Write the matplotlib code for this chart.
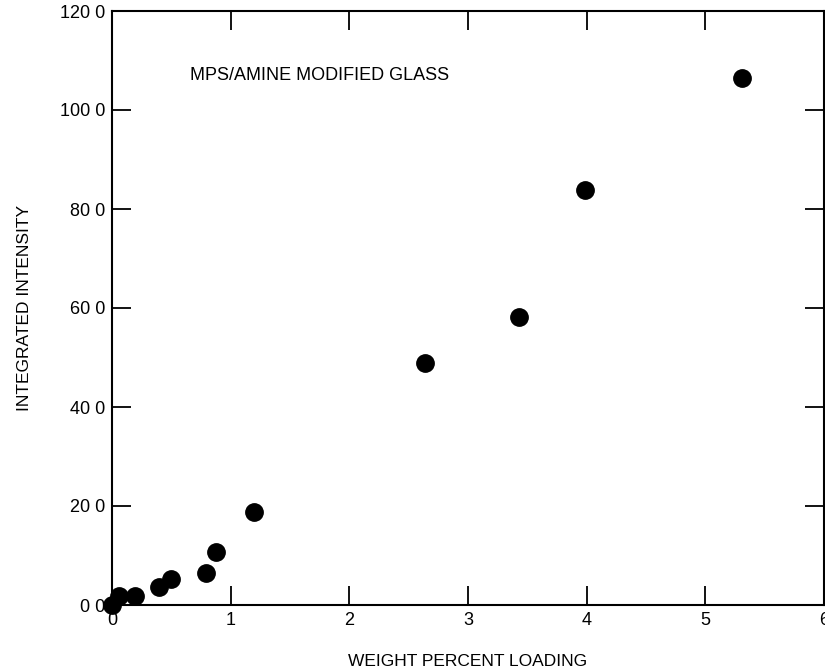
import matplotlib.pyplot as plt

plt.rcParams['font.family'] = ['Liberation Sans', 'DejaVu Sans']

# weight percent loading vs integrated intensity
loading = [0.0, 0.06, 0.19, 0.40, 0.50, 0.79, 0.88, 1.20, 2.64, 3.43, 3.99, 5.31]
intensity = [0.0, 1.8, 1.8, 3.7, 5.3, 6.4, 10.8, 18.7, 48.8, 58.1, 83.8, 106.5]

xticks = [0, 1, 2, 3, 4, 5, 6]
yticks = [0, 20, 40, 60, 80, 100, 120]
ytick_labels = ['0 0', '20 0', '40 0', '60 0', '80 0', '100 0', '120 0']

fig = plt.figure(figsize=(8.25, 6.71), dpi=100)
ax = fig.add_axes([112 / 825, 66 / 671, (824 - 112) / 825, (660 - 66) / 671])

ax.plot(loading, intensity, 'o', color='black', markersize=12.5, clip_on=False, zorder=5)

ax.set_xlim(0, 6)
ax.set_ylim(0, 120)
ax.set_xticks(xticks)
ax.set_yticks(yticks)
ax.set_yticklabels(ytick_labels)

ax.tick_params(axis='both', direction='in', length=14, width=1.3, labelsize=13,
               top=True, right=True, pad=5)
for s in ax.spines.values():
    s.set_linewidth(1.5)

ax.set_xlabel('WEIGHT PERCENT LOADING', fontsize=12.5, labelpad=18)
ax.set_ylabel('INTEGRATED INTENSITY', fontsize=12.5, labelpad=20)

ax.text(0.66, 107, 'MPS/AMINE MODIFIED GLASS', fontsize=13, va='center', ha='left')

fig.savefig('out.png', dpi=100)
